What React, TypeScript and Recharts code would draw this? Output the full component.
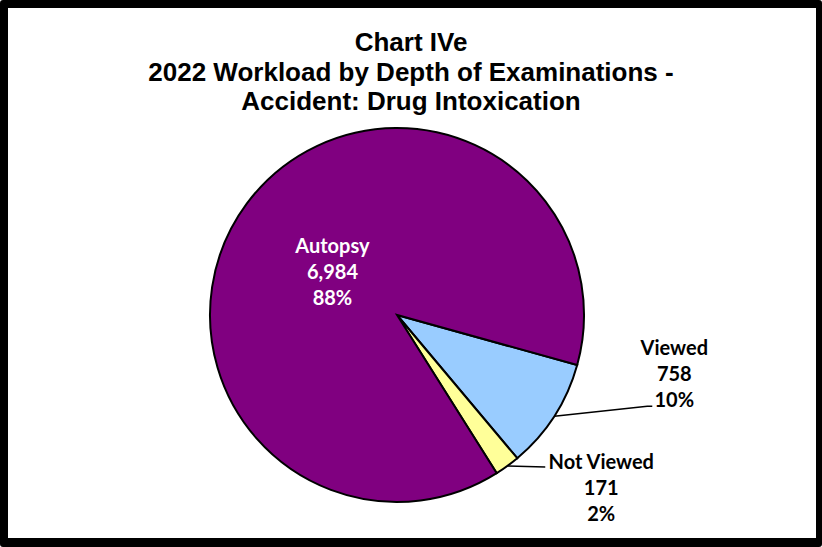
import { Pie, PieChart, Cell } from "recharts";

document.body.style.margin = "0";

const categories = ["Viewed", "Not Viewed", "Autopsy"];
const counts = [758, 171, 6984];
const percents = ["10%", "2%", "88%"];
const titleLines = [
  "Chart IVe",
  "2022 Workload by Depth of Examinations -",
  "Accident: Drug Intoxication",
];

const colors: Record<string, string> = {
  Viewed: "#99CCFF",
  "Not Viewed": "#FFFF99",
  Autopsy: "#800080",
};

const data = categories.map((name, i) => ({
  name,
  value: counts[i],
  pct: percents[i],
}));

const RAD = Math.PI / 180;
const LABEL_FONT = "Lato, 'Open Sans', sans-serif";

// label layouts: inside for the big slice, leader lines for the two small ones
function renderLabel(props: any) {
  const { cx, cy, midAngle, outerRadius, payload, index } = props;
  const name = payload?.name ?? categories[index];
  const lines = [name, counts[index].toLocaleString("en-US"), percents[index]];
  const cos = Math.cos(-midAngle * RAD);
  const sin = Math.sin(-midAngle * RAD);
  const ex = cx + outerRadius * cos;
  const ey = cy + outerRadius * sin;

  let tx: number;
  let ty: number;
  let fill = "#000";
  let path: string | null = null;

  if (name === "Autopsy") {
    const r = outerRadius * 0.43;
    tx = cx + r * cos;
    ty = cy + r * sin - 21;
    fill = "#fff";
  } else if (name === "Viewed") {
    path = `M${ex},${ey} L${ex + 93},${ey - 10} L${ex + 98},${ey - 10}`;
    tx = ex + 120;
    ty = ey - 68;
  } else {
    path = `M${ex},${ey} L${ex + 38},${ey + 1}`;
    tx = ex + 94;
    ty = ey - 4;
  }

  return (
    <g key={`lbl-${index}`}>
      {path && <path d={path} stroke="#000" strokeWidth={1.5} fill="none" />}
      <text
        x={tx}
        y={ty}
        textAnchor="middle"
        fill={fill}
        fontFamily={LABEL_FONT}
        fontWeight={700}
        fontSize={20}
      >
        {lines.map((l, i) => (
          <tspan key={i} x={tx} dy={i === 0 ? "0.35em" : 26}>
            {l}
          </tspan>
        ))}
      </text>
    </g>
  );
}

export default function App() {
  return (
    <div style={{ position: "relative", width: 822, height: 547, background: "#fff" }}>
      <PieChart
        width={822}
        height={547}
        margin={{ top: 0, right: 0, bottom: 0, left: 0 }}
        style={{ position: "absolute", left: 0, top: 0 }}
      >
        <Pie
          data={data}
          dataKey="value"
          nameKey="name"
          cx={397}
          cy={315}
          outerRadius={187}
          startAngle={-15.5}
          endAngle={-375.5}
          stroke="#000"
          strokeWidth={2}
          label={renderLabel}
          labelLine={false}
          isAnimationActive={false}
        >
          {data.map((d) => (
            <Cell key={d.name} fill={colors[d.name]} />
          ))}
        </Pie>
      </PieChart>
      <svg
        width={822}
        height={130}
        style={{ position: "absolute", left: 0, top: 0, pointerEvents: "none" }}
      >
        {titleLines.map((t, i) => (
          <text
            key={i}
            x={411}
            y={42 + i * 29.5}
            textAnchor="middle"
            dominantBaseline="central"
            fontFamily="'Liberation Sans', Arial, sans-serif"
            fontWeight={700}
            fontSize={26}
            fill="#000"
          >
            {t}
          </text>
        ))}
      </svg>
      <div
        style={{
          position: "absolute",
          inset: 0,
          boxSizing: "border-box",
          borderStyle: "solid",
          borderColor: "#000",
          borderWidth: "8px 6px 9px 8px",
          borderRadius: 3,
          pointerEvents: "none",
        }}
      />
    </div>
  );
}
